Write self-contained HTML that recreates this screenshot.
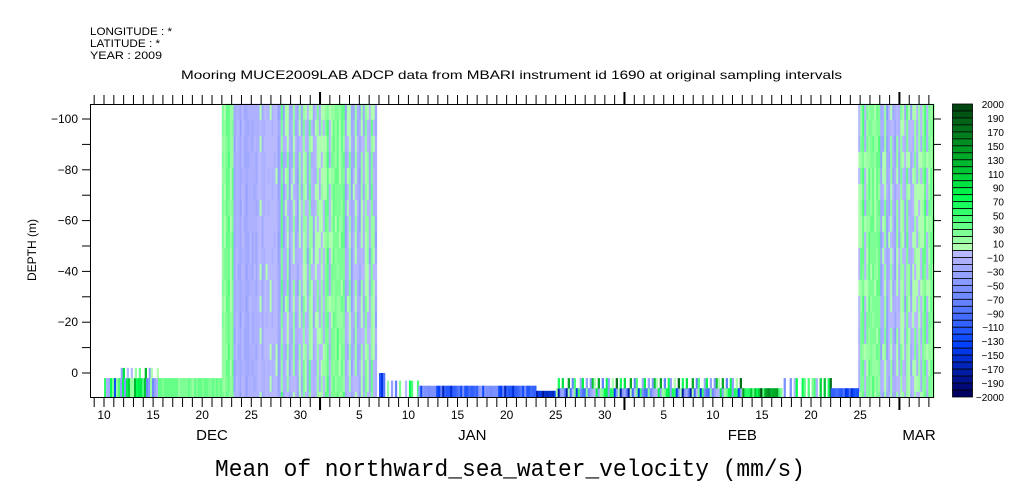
<!DOCTYPE html>
<html><head><meta charset="utf-8"><style>
body{margin:0;background:#fff;}
svg{display:block;font-family:"Liberation Sans",sans-serif;}
</style></head><body>
<svg id="c" width="1009" height="504">
<text x="90" y="35" font-size="11" textLength="82" lengthAdjust="spacingAndGlyphs">LONGITUDE : *</text>
<text x="90" y="47" font-size="11" textLength="70" lengthAdjust="spacingAndGlyphs">LATITUDE : *</text>
<text x="90" y="59" font-size="11" textLength="72" lengthAdjust="spacingAndGlyphs">YEAR : 2009</text>
<text x="181" y="79" font-size="12" textLength="661" lengthAdjust="spacingAndGlyphs">Mooring MUCE2009LAB ADCP data from MBARI instrument id 1690 at original sampling intervals</text>
<text x="215" y="476" font-size="24" textLength="590" lengthAdjust="spacingAndGlyphs" font-family="Liberation Mono, monospace">Mean of northward_sea_water_velocity (mm/s)</text>
<text x="36" y="250" font-size="12" text-anchor="middle" transform="rotate(-90 36 250)">DEPTH (m)</text>
<g id="data"></g><g id="axes"></g>
</svg>
<script>
// data (days counted from Dec 1, 2009; Jan d = 31+d, Feb d = 62+d, Mar d = 90+d)
const yTicks=[-100,-80,-60,-40,-20,0];
const cbLabels=["2000","190","170","150","130","110","90","70","50","30","10","−10","−30","−50","−70","−90","−110","−130","−150","−170","−190","−2000"];
const dayLabels=[[10,"10"],[15,"15"],[20,"20"],[25,"25"],[30,"30"],[36,"5"],[41,"10"],[46,"15"],[51,"20"],[56,"25"],[61,"30"],[67,"5"],[72,"10"],[77,"15"],[82,"20"],[87,"25"]];
const monthLabels=[[21,"DEC"],[47.5,"JAN"],[75,"FEB"],[93,"MAR"]];
const texture=[0.2,-0.5,0.9,-0.1,0.4,-0.8,0.6,0.1,-0.3,1.0,-0.6,0.3,-0.2,0.7,-0.9,0.5,0.0,-0.4,0.8,-0.7,0.2,0.6,-0.1,-0.5,0.9,0.3,-0.8,0.4,-0.2,0.1,0.7];
// regions: [dayStart, dayEnd, depthTop, depthBottom, bias, amplitude, kind]
const regions=[
 [22,23.2,-106,9.5,15,30,"noise"],[23.2,28,-106,9.5,-18,22,"noise"],[28,37.7,-106,9.5,0,45,"noise"],[86.8,94.4,-106,9.5,0,45,"noise"],
 [10,15.5,2,9.5,0,170,"strip"],[11.5,15.5,-2,2,20,150,"spike"],[15.5,22,2,9.5,28,12,"strip"],
 [38,38.6,0,9.5,-120,40,"strip"],[38.6,42,3,9.5,10,150,"spike"],[42,54,5,9.5,-100,90,"strip"],[54,56,7,9.5,-160,40,"strip"],
 [56,75,6,9.5,-40,170,"strip"],[56,75,2,6,30,160,"spike"],[75,79,6,9.5,80,120,"strip"],[79,84,2,9.5,20,170,"spike"],[84,86.8,6,9.5,-120,40,"strip"]
];
const X=d=>104+9.82*(d-10), Y=z=>373+2.54*z;
const NS="http://www.w3.org/2000/svg";
function mk(t,a,p){const e=document.createElementNS(NS,t);for(const k in a)e.setAttribute(k,a[k]);p.appendChild(e);return e;}
function lerp(a,b,t){return a.map((v,i)=>Math.round(v+(b[i]-v)*t));}
const gStops=[[0,[176,255,176]],[0.35,[0,255,80]],[0.65,[0,170,40]],[1,[0,70,16]]];
const bStops=[[0,[184,184,255]],[0.35,[100,130,255]],[0.65,[0,64,255]],[1,[0,0,96]]];
function ramp(st,t){for(let i=1;i<st.length;i++)if(t<=st[i][0]){const a=st[i-1],b=st[i];return lerp(a[1],b[1],(t-a[0])/(b[0]-a[0]));}return st[st.length-1][1];}
function color(v){let i=Math.min(20,Math.max(0,Math.floor(Math.abs(v)/10)));const c=ramp(v>=0?gStops:bStops,i/20);return `rgb(${c})`;}
const D=document.getElementById('data');
regions.forEach((r,ri)=>{
 const x0=X(r[0]),x1=X(r[1]),y0=Y(r[2]),y1=Y(r[3]);
 const cw=2, rh=r[6]==="noise"?16:(y1-y0);
 for(let x=x0,c=0;x<x1;x+=cw,c++){
  if(r[6]==="spike"&&texture[(c+ri)%texture.length]<0.1)continue;
  for(let y=y0,k=0;y<y1;y+=rh,k++){
   const t=0.7*texture[(c*3+ri)%texture.length]+0.3*texture[(c+k*7)%texture.length];
   const v=r[4]+r[5]*t;
   const e=mk('rect',{x:x.toFixed(1),y:y.toFixed(1),width:cw+0.3,height:Math.min(rh,y1-y)+0.3,fill:color(v)},D);
   
   
  }
 }
});
const A=document.getElementById('axes');
const fr=mk('rect',{x:90.5,y:104.5,width:843,height:293,fill:'none',stroke:'#000'},A);

for(let d=9;d<=95;d++){const x=X(d);if(x<91||x>933)continue;const big=(d===32||d===63||d===91);
 mk('line',{x1:x,x2:x,y1:big?92:95,y2:104,stroke:'#000','stroke-width':big?2:1},A);
 mk('line',{x1:x,x2:x,y1:397,y2:big?410:407,stroke:'#000','stroke-width':big?2:1},A);}
dayLabels.forEach(l=>{const t=mk('text',{x:X(l[0]),y:419,'font-size':12,'text-anchor':'middle'},A);t.textContent=l[1];
 });
monthLabels.forEach(l=>{const t=mk('text',{x:X(l[0]),y:440,'font-size':15,'text-anchor':'middle'},A);t.textContent=l[1];
 });
for(let z=-100;z<=0;z+=10){const y=Y(z);mk('line',{x1:82,x2:90,y1:y,y2:y,stroke:'#000'},A);mk('line',{x1:933,x2:941,y1:y,y2:y,stroke:'#000'},A);}
yTicks.forEach(z=>{const t=mk('text',{x:78,y:Y(z)+4,'font-size':12,'text-anchor':'end'},A);t.textContent=z<0?"−"+(-z):String(z);
 });
// colorbar
const n=42,cy0=104,ch=293/n;
for(let i=0;i<n;i++){const v=(n/2-1-i)*10+5;const e=mk('rect',{x:952.5,y:cy0+i*ch,width:20,height:ch,fill:color(v),stroke:'#000','stroke-width':0.8},A);
 }
cbLabels.forEach((l,i)=>{const t=mk('text',{x:1004,y:cy0+i*(293/21)+4,'font-size':10,'text-anchor':'end'},A);t.textContent=l;
 });
</script>
</body></html>
